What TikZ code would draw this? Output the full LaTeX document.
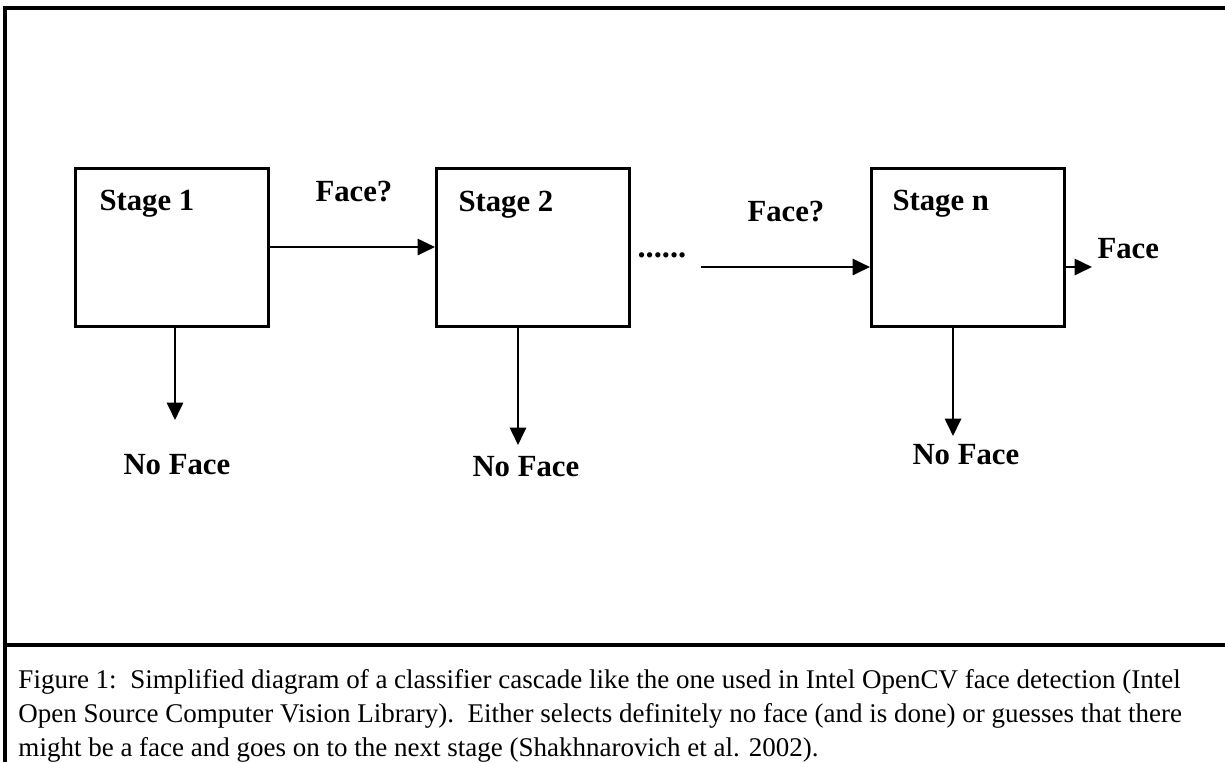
\documentclass[tikz,border=0pt]{standalone}
\usepackage{fontspec}
\setmainfont{Liberation Serif}
\usetikzlibrary{arrows.meta, positioning}

\begin{document}
\begin{tikzpicture}[x=0.4pt, y=-0.4pt, every node/.style={font=\fontsize{12.3}{14}\selectfont\bfseries, inner sep=0pt}]
    \tikzstyle{stagebox}=[rectangle, draw, line width=1.2pt, minimum width=77.2pt, minimum height=63.2pt]
    \tikzstyle{seta}=[-{Triangle[length=7pt, width=6.5pt]}, line width=1pt]
    \tikzstyle{legenda}=[anchor=base west, font=\fontsize{10.8}{13}\selectfont]
    \useasboundingbox (0,0) rectangle (1225,762);
    % frame
    \draw[line width=1.4pt] (1225,8) -- (5,8) -- (5,762);
    \draw[line width=1.4pt] (5,645) -- (1225,645);
    % stages
    \node[stagebox] (s1) at (172,247) {};
    \node[stagebox] (s2) at (533,247) {};
    \node[stagebox] (sn) at (968,247) {};
    \node[anchor=base west] (l1) at (99,210) {Stage 1};
    \node[anchor=base west] (l2) at (458,211) {Stage 2};
    \node[anchor=base west] (ln) at (892,210) {Stage n};
    % forward path
    \node[anchor=base west] (q1) at (315,201) {Face?};
    \node[anchor=base west, font=\fontsize{13}{14}\selectfont\bfseries] (dots) at (637,257) {......};
    \node[anchor=base west] (q2) at (747,221) {Face?};
    \node[anchor=base west] (yes) at (1097,258) {Face};
    \coordinate (in) at (701,267);
    \coordinate (out) at (1092,267);
    \draw[seta] (s1) -- (s2);
    \draw[seta] (in) -- (in -| sn.west);
    \draw[seta] (out -| sn.east) -- (out);
    % rejections
    \coordinate (t1) at (175,420);
    \coordinate (t2) at (518,445);
    \coordinate (tn) at (953,436);
    \draw[seta] (t1 |- s1.south) -- (t1);
    \draw[seta] (t2 |- s2.south) -- (t2);
    \draw[seta] (tn |- sn.south) -- (tn);
    \node[anchor=base west] (no1) at (123,474) {No Face};
    \node[anchor=base west] (no2) at (472,476) {No Face};
    \node[anchor=base west] (non) at (912,464) {No Face};
    % caption
    \node[legenda] (c1) at (18,688) {Figure 1:\ \ Simplified diagram of a classifier cascade like the one used in Intel OpenCV face detection (Intel};
    \node[legenda] (c2) at (18,722) {Open Source Computer Vision Library).\ \ Either selects definitely no face (and is done) or guesses that there};
    \node[legenda] (c3) at (18,756) {might be a face and goes on to the next stage (Shakhnarovich et al. 2002).};
  \end{tikzpicture}
\end{document}
